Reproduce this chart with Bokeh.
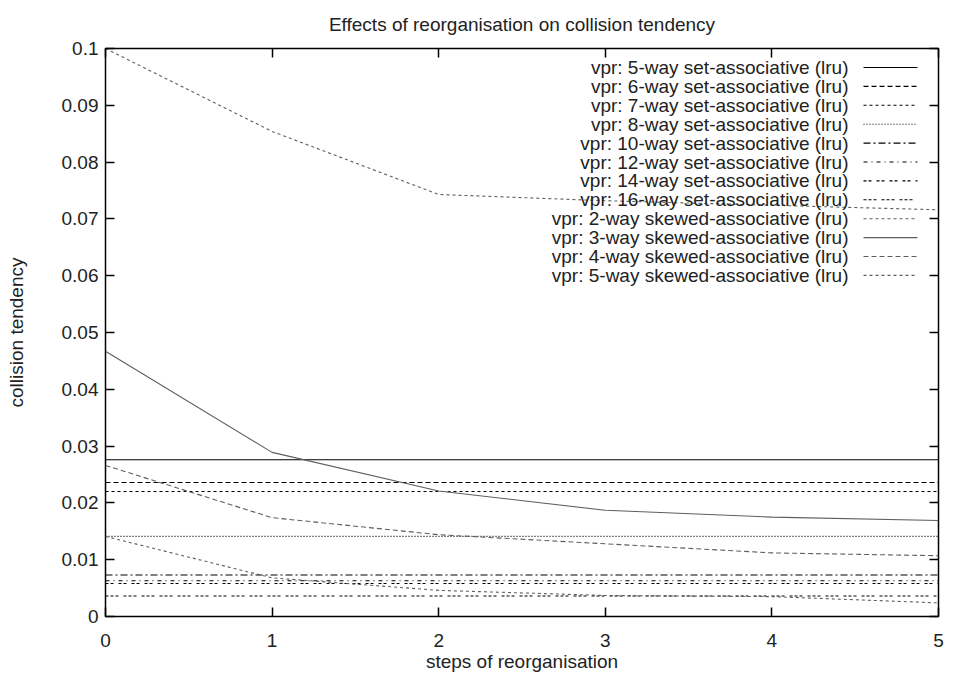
from bokeh.plotting import figure
from bokeh.models import LinearAxis, FixedTicker, Range1d
from bokeh.core.properties import value
from bokeh.embed import file_html
from bokeh.resources import INLINE

# ---------------- data ----------------
steps = [0, 1, 2, 3, 4, 5]

set_5way = [0.0276, 0.0276, 0.0276, 0.0276, 0.0276, 0.0276]
set_6way = [0.0236, 0.0236, 0.0236, 0.0236, 0.0236, 0.0236]
set_7way = [0.0220, 0.0220, 0.0220, 0.0220, 0.0220, 0.0220]
set_8way = [0.0141, 0.0141, 0.0141, 0.0141, 0.0141, 0.0141]
set_10way = [0.0073, 0.0073, 0.0073, 0.0073, 0.0073, 0.0073]
set_12way = [0.0063, 0.0063, 0.0063, 0.0063, 0.0063, 0.0063]
set_14way = [0.0058, 0.0058, 0.0058, 0.0058, 0.0058, 0.0058]
set_16way = [0.0036, 0.0036, 0.0036, 0.0036, 0.0036, 0.0036]

skew_2way = [0.1000, 0.0854, 0.0743, 0.0732, 0.0724, 0.0716]
skew_3way = [0.0467, 0.0289, 0.0221, 0.0187, 0.0175, 0.0169]
skew_4way = [0.0266, 0.0174, 0.0144, 0.0128, 0.0112, 0.0107]
skew_5way = [0.0141, 0.0068, 0.0046, 0.0037, 0.0035, 0.0024]

labels = [
    "vpr: 5-way set-associative (lru)",
    "vpr: 6-way set-associative (lru)",
    "vpr: 7-way set-associative (lru)",
    "vpr: 8-way set-associative (lru)",
    "vpr: 10-way set-associative (lru)",
    "vpr: 12-way set-associative (lru)",
    "vpr: 14-way set-associative (lru)",
    "vpr: 16-way set-associative (lru)",
    "vpr: 2-way skewed-associative (lru)",
    "vpr: 3-way skewed-associative (lru)",
    "vpr: 4-way skewed-associative (lru)",
    "vpr: 5-way skewed-associative (lru)",
]
series = [set_5way, set_6way, set_7way, set_8way, set_10way, set_12way,
          set_14way, set_16way, skew_2way, skew_3way, skew_4way, skew_5way]

x_ticks = [0, 1, 2, 3, 4, 5]
y_ticks = [0, 0.01, 0.02, 0.03, 0.04, 0.05, 0.06, 0.07, 0.08, 0.09, 0.1]
y_tick_labels = ["0", "0.01", "0.02", "0.03", "0.04", "0.05", "0.06",
                 "0.07", "0.08", "0.09", "0.1"]

title_text = "Effects of reorganisation on collision tendency"

# ---------------- styles ----------------
BLACK = "#000000"
GRAY = "#5e5e5e"
styles = [
    (BLACK, "solid"),
    (BLACK, "5 3"),
    (BLACK, "3 3"),
    (BLACK, "1 2"),
    (BLACK, "7 3 2 3"),
    (BLACK, "4 4 1 4"),
    (BLACK, "3 2 3 5"),
    (BLACK, "3 2 3 2 3 5"),
    (GRAY, "3 3"),
    (GRAY, "solid"),
    (GRAY, "5 3"),
    (GRAY, "3 3"),
]

FONT = "Liberation Sans"
FS = "19px"
TXT = "#222222"

W, H = 945, 679
FW, FH = 833, 568
BL, BT = 105, 48
p = figure(width=W, height=H, output_backend="svg", toolbar_location=None,
           x_range=Range1d(0, 5), y_range=Range1d(0, 0.1),
           min_border_left=BL, min_border_right=7, min_border_top=BT,
           min_border_bottom=63, background_fill_color="white",
           border_fill_color="white")
p.grid.visible = False
p.outline_line_color = "#000000"
p.outline_line_width = 1.5

p.title.text = title_text
p.title.align = "center"
p.title.vertical_align = "top"
p.title.text_font = FONT
p.title.text_font_size = FS
p.title.text_font_style = "normal"
p.title.text_color = TXT
p.title.standoff = 23

def style_axis(ax, show_labels):
    ax.axis_line_color = None
    ax.major_tick_in = 9
    ax.major_tick_out = 0
    ax.major_tick_line_color = "#000000"
    ax.major_tick_line_width = 1.5
    ax.minor_tick_line_color = None
    ax.major_label_text_font = FONT
    ax.major_label_text_color = TXT
    ax.major_label_text_font_size = FS
    ax.axis_label_text_font = FONT
    ax.axis_label_text_font_style = "normal"
    ax.axis_label_text_color = TXT
    ax.axis_label_text_font_size = FS
    if not show_labels:
        ax.major_label_standoff = 0

p.xaxis.ticker = FixedTicker(ticks=x_ticks)
p.yaxis.ticker = FixedTicker(ticks=y_ticks)
p.yaxis.major_label_overrides = {t: s for t, s in zip(y_ticks, y_tick_labels)}
p.xaxis.axis_label = "steps of reorganisation"
p.yaxis.axis_label = "collision tendency"
style_axis(p.xaxis[0], True)
style_axis(p.yaxis[0], True)
p.xaxis.major_label_standoff = 17
p.xaxis.axis_label_standoff = 1
p.yaxis.major_label_standoff = 7
p.yaxis.axis_label_standoff = 32

ax_r = LinearAxis(ticker=FixedTicker(ticks=y_ticks),
                  major_label_overrides={t: "" for t in y_ticks})
ax_t = LinearAxis(ticker=FixedTicker(ticks=x_ticks),
                  major_label_overrides={t: "" for t in x_ticks})
style_axis(ax_r, False)
style_axis(ax_t, False)
p.add_layout(ax_r, "right")
p.add_layout(ax_t, "above")

# data lines
for s, (c, d) in zip(series, styles):
    p.line(steps, s, line_color=c, line_dash=d, line_width=1.1)

# legend (gnuplot style: right-aligned text, sample to the right)
xpx = 5.0 / FW
ypx = 0.1 / FH
text_x = 743 * xpx
s0 = 758 * xpx
s1 = 812 * xpx
for i, (lab, (c, d)) in enumerate(zip(labels, styles)):
    yy = 0.1 - (19 + 18.9 * i) * ypx
    p.text(x=[text_x], y=[yy], text=[lab], text_align="right",
           text_baseline="middle", text_font=value(FONT),
           text_font_size=FS, text_color=TXT)
    p.line([s0, s1], [yy, yy], line_color=c, line_dash=d, line_width=1.1)

open("out.html", "w").write(file_html(p, INLINE))
